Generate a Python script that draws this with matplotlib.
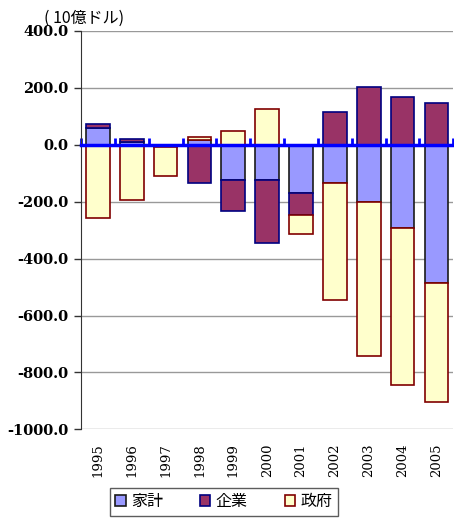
import numpy as np
import matplotlib

matplotlib.use("Agg")
import matplotlib.pyplot as plt

years = ["1995", "1996", "1997", "1998", "1999", "2000",
         "2001", "2002", "2003", "2004", "2005"]
household = [58, 9, -5, 18, -124, -124, -169, -133, -202, -292, -485]
corporate = [14, 12, -3, -133, -109, -222, -77, 117, 203, 167, 148]
government = [-257, -194, -103, 8, 48, 125, -69, -414, -542, -553, -418]

series_names = ["家計", "企業", "政府"]
fills = ["#9999FF", "#993366", "#FFFFCC"]
edges = ["#1a1a1a", "#000080", "#800000"]

jp_font = ["Noto Sans CJK JP", "DejaVu Sans"]
num_font = "DejaVu Serif"

fig = plt.figure(figsize=(4.54, 5.20), dpi=100)
ax = fig.add_axes([0.1784, 0.1744, 0.82, 0.766])

x = np.arange(len(years))
pos_base = np.zeros(len(years))
neg_base = np.zeros(len(years))

# positives stack upward from zero, negatives stack downward
for name, values, fc, ec in zip(series_names, [household, corporate, government], fills, edges):
    vals = np.array(values, dtype=float)
    bottom = np.where(vals >= 0, pos_base, neg_base)
    ax.bar(x, vals, width=0.7, bottom=bottom, color=fc, edgecolor=ec,
           linewidth=1.2, label=name, zorder=2)
    pos_base += np.where(vals >= 0, vals, 0)
    neg_base += np.where(vals < 0, vals, 0)

ax.set_xlim(-0.5, len(years) - 0.5)
ax.set_ylim(-1000, 400)
ax.set_yticks(np.arange(-1000, 401, 200))
ax.set_yticklabels([f"{v:.1f}" for v in np.arange(-1000, 401, 200)],
                   fontfamily=num_font, fontsize=10.5, fontweight="bold")
ax.yaxis.grid(True, color="#999999", linewidth=1)
ax.set_axisbelow(True)
ax.tick_params(axis="y", direction="out", length=5, width=1, color="#333333", pad=4)

for side in ("top", "right"):
    ax.spines[side].set_visible(False)
ax.spines["left"].set_color("#333333")

# category axis drawn at zero, with boundary ticks
ax.spines["bottom"].set_position(("data", 0))
ax.spines["bottom"].set_color("#0000FF")
ax.spines["bottom"].set_linewidth(2.5)
ax.spines["bottom"].set_zorder(3)
ax.set_xticks(np.arange(len(years) + 1) - 0.5)
ax.set_xticklabels([])
ax.tick_params(axis="x", direction="in", length=5, width=2, color="#0000FF")

# year labels along the bottom edge
sec = ax.secondary_xaxis(0.0)
sec.set_xticks(x)
sec.set_xticklabels(years, rotation=90, fontfamily=num_font, fontsize=9.5)
sec.tick_params(length=0, pad=10)
sec.spines["bottom"].set_visible(False)

fig.text(0.098, 0.965, "( 10億ドル)", fontfamily=jp_font, fontsize=11.5,
         ha="left", va="center")

leg = fig.legend(loc="center", bbox_to_anchor=(0.493, 0.035), ncol=3,
                 prop={"family": jp_font, "size": 11.5},
                 handlelength=0.65, handleheight=0.65, handletextpad=0.35,
                 columnspacing=2.3, frameon=True, fancybox=False,
                 borderpad=0.35, borderaxespad=0)
leg.get_frame().set_edgecolor("#333333")
leg.get_frame().set_linewidth(1)

fig.savefig("out.png", dpi=100)
